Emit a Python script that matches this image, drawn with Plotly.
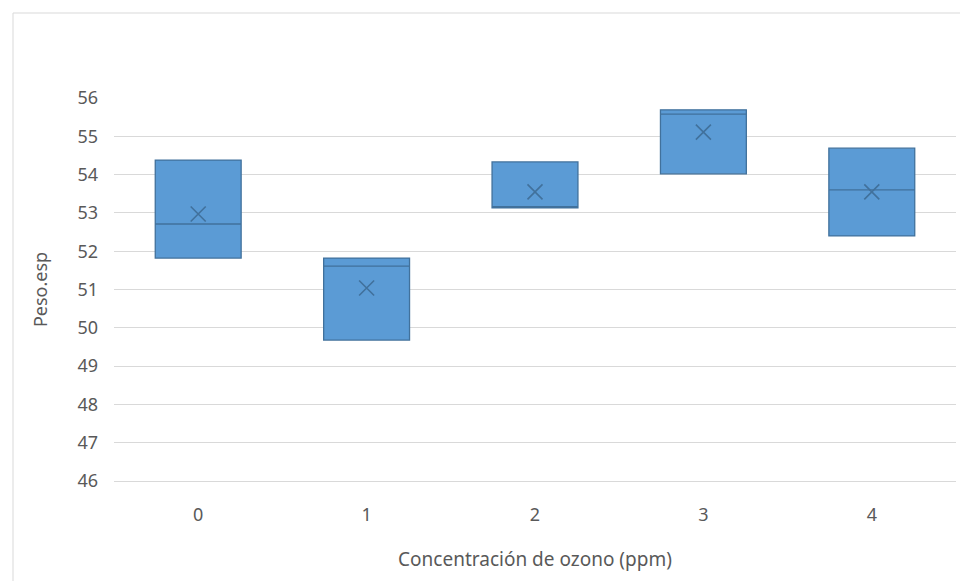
import plotly.graph_objects as go

categories = ["0", "1", "2", "3", "4"]
q1_vals = [51.82, 49.68, 53.13, 54.02, 52.40]
median_vals = [52.71, 51.61, 53.16, 55.58, 53.60]
q3_vals = [54.38, 51.82, 54.33, 55.69, 54.69]
mean_vals = [52.97, 51.04, 53.55, 55.11, 53.55]
y_ticks = [46, 47, 48, 49, 50, 51, 52, 53, 54, 55, 56]

FILL = "#5B9BD5"
EDGE = "#41719C"
TXT = "#595959"
FONT = "Noto Sans"

fig = go.Figure()
fig.add_trace(go.Box(
    x=categories,
    q1=q1_vals,
    median=median_vals,
    q3=q3_vals,
    lowerfence=q1_vals,
    upperfence=q3_vals,
    fillcolor=FILL,
    line=dict(color=EDGE, width=1.3),
    width=0.51,
    whiskerwidth=0,
    showlegend=False,
    hoverinfo="skip",
))
fig.add_trace(go.Scatter(
    x=categories,
    y=mean_vals,
    mode="markers",
    marker=dict(symbol="x-thin", size=15, line=dict(color=EDGE, width=1.6)),
    showlegend=False,
    hoverinfo="skip",
))

# Chart frame (light gray border)
fx = (13 - 114) / 842
fy = 1 + (98 - 13) / 383
fig.add_shape(type="line", xref="paper", yref="paper",
              x0=fx, x1=fx, y0=-0.4, y1=fy,
              line=dict(color="#D9D9D9", width=1))
fig.add_shape(type="line", xref="paper", yref="paper",
              x0=fx, x1=1.2, y0=fy, y1=fy,
              line=dict(color="#D9D9D9", width=1))

fig.update_layout(
    width=960, height=581,
    margin=dict(l=114, r=4, t=98, b=100),
    paper_bgcolor="white",
    plot_bgcolor="white",
    font=dict(family=FONT, size=18, color=TXT),
    xaxis=dict(
        type="category",
        categoryorder="array",
        categoryarray=categories,
        range=[-0.5, 4.5],
        showgrid=False,
        showline=True,
        linecolor="#D9D9D9",
        linewidth=1,
        ticks="",
        ticklabelstandoff=17,
        tickfont=dict(size=18, color=TXT),
        title=dict(text="Concentración de ozono (ppm)", font=dict(size=19, color=TXT), standoff=28),
    ),
    yaxis=dict(
        range=[46, 56],
        tickvals=y_ticks,
        showgrid=True,
        gridcolor="#D9D9D9",
        gridwidth=1,
        zeroline=False,
        showline=False,
        ticks="",
        ticklabelstandoff=15,
        tickfont=dict(size=18, color=TXT),
        title=dict(text="Peso.esp", font=dict(size=18, color=TXT), standoff=25),
    ),
)

fig.write_html("out.html", config={"displayModeBar": False},
               post_script="document.body.style.margin='0';document.body.style.overflow='hidden';")
